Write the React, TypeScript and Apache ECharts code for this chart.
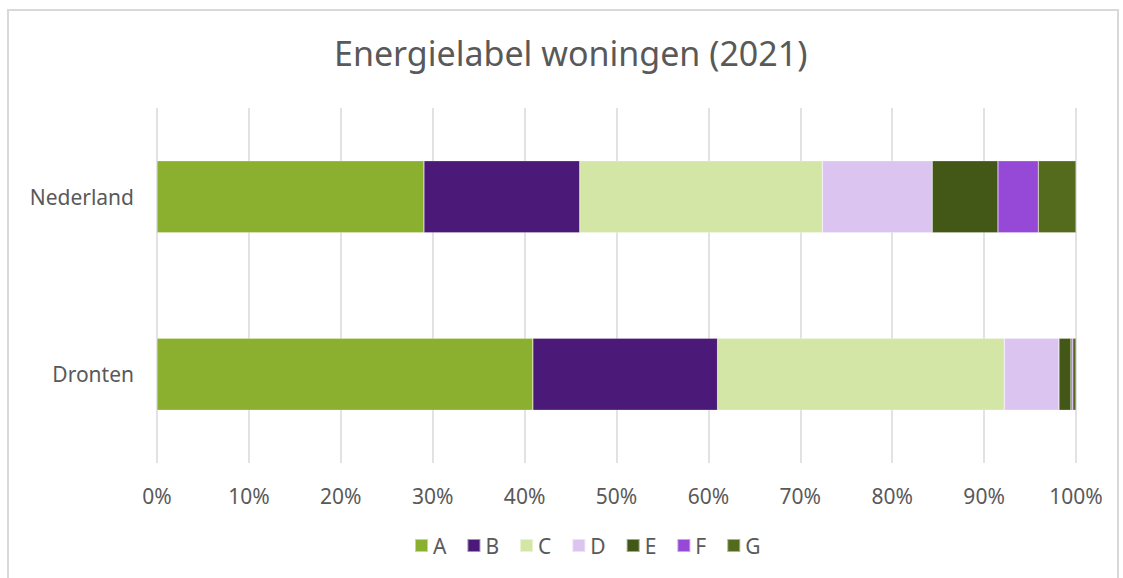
import React, { useEffect, useRef } from "react";
import * as echarts from "echarts";

const categories = ["Nederland", "Dronten"];
const seriesNames = ["A", "B", "C", "D", "E", "F", "G"];
const colors = ["#8BAF2F", "#4B1A78", "#D4E6A5", "#DCC4F0", "#435717", "#9549D6", "#546B1E"];
const valuesA = [29.05, 40.9];
const valuesB = [16.95, 20.1];
const valuesC = [26.4, 31.2];
const valuesD = [11.96, 5.95];
const valuesE = [7.15, 1.3];
const valuesF = [4.39, 0.2];
const valuesG = [4.1, 0.35];
const allValues = [valuesA, valuesB, valuesC, valuesD, valuesE, valuesF, valuesG];
const xTicks = [0, 10, 20, 30, 40, 50, 60, 70, 80, 90, 100];

const FONT = "'Noto Sans', 'Open Sans', sans-serif";
const GRAY = "#595959";

export default function App() {
  const ref = useRef<HTMLDivElement>(null);
  useEffect(() => {
    if (!ref.current) return;
    const chart = echarts.init(ref.current, undefined, { renderer: "svg" });
    chart.setOption({
      animation: false,
      backgroundColor: "#ffffff",
      title: {
        text: "Energielabel woningen (2021)",
        left: 329,
        top: 31,
        textStyle: { fontFamily: FONT, fontSize: 34, fontWeight: "normal", color: GRAY },
      },
      graphic: [
        {
          type: "rect",
          shape: { x: 8, y: 10, width: 1110, height: 600 },
          style: { fill: "none", stroke: "#D9D9D9", lineWidth: 2 },
          silent: true,
        },
      ],
      legend: {
        bottom: 17,
        left: 409,
        itemWidth: 13,
        itemHeight: 13,
        itemGap: 20,
        icon: "rect",
        textStyle: { fontFamily: FONT, fontSize: 21, color: GRAY },
        data: seriesNames,
      },
      grid: { left: 157, right: 47, top: 108, bottom: 115, containLabel: false },
      xAxis: {
        type: "value",
        min: 0,
        max: 100,
        interval: 10,
        axisLine: { show: false },
        axisTick: { show: false },
        splitLine: { show: true, lineStyle: { color: "#D9D9D9", width: 1.5 } },
        axisLabel: {
          margin: 22,
          fontFamily: FONT,
          fontSize: 21,
          color: GRAY,
          formatter: (v: number) => (xTicks.includes(v) ? v + "%" : ""),
        },
      },
      yAxis: {
        type: "category",
        inverse: true,
        data: categories,
        axisLine: { show: false },
        axisTick: { show: false },
        axisLabel: { margin: 23, fontFamily: FONT, fontSize: 21, color: GRAY },
      },
      series: seriesNames.map((name, i) => ({
        name,
        type: "bar",
        stack: "total",
        barWidth: 72,
        data: allValues[i],
        itemStyle: { color: colors[i], borderColor: "rgba(255,255,255,0.5)", borderWidth: 0.5 },
      })),
    });
    return () => chart.dispose();
  }, []);
  return (
    <div
      ref={ref}
      style={{ position: "fixed", left: 0, top: 0, width: 1123, height: 578 }}
    />
  );
}
